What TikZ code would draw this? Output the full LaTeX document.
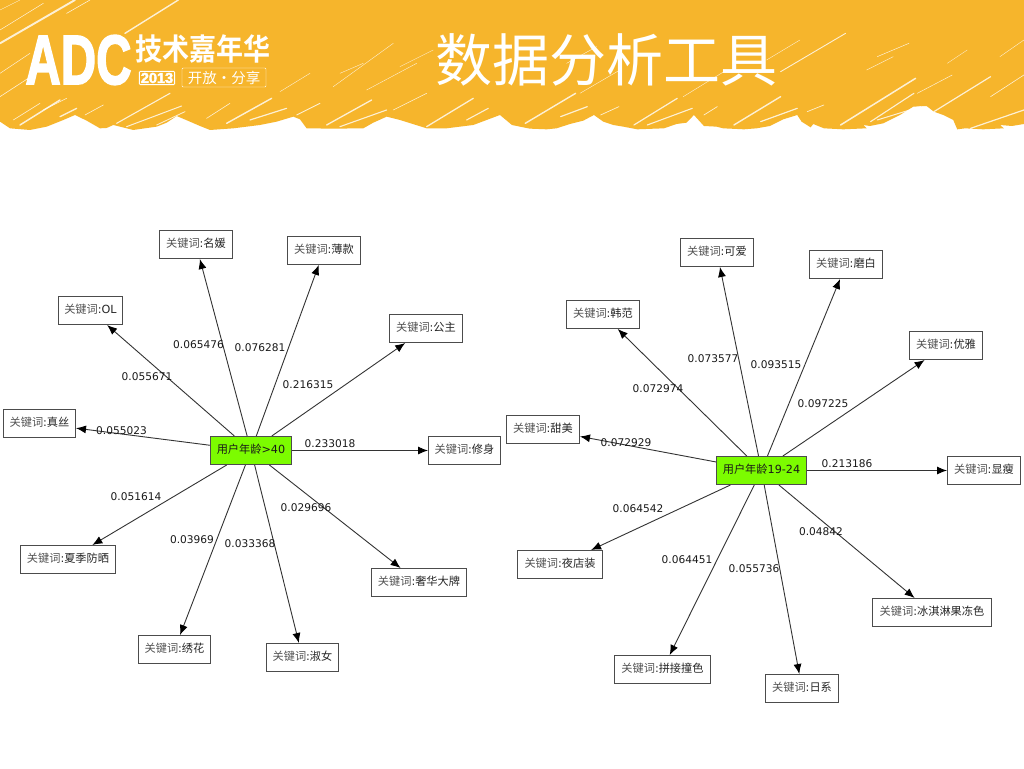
\documentclass[tikz,border=0pt]{standalone}
\usepackage{fontspec}
\setmainfont{DejaVu Sans}
\newfontfamily\cjk{Noto Sans CJK SC}
\newfontfamily\cjkb{Noto Sans CJK SC Bold}
\newfontfamily\logof[BoldFeatures={FakeBold=2.5}]{Liberation Sans}
\usetikzlibrary{arrows.meta}
\definecolor{bannerc}{HTML}{F6B52C}
\definecolor{hubc}{HTML}{7CFC00}
\definecolor{edgec}{HTML}{333333}
\newcommand\kwl[1]{{\cjk\color{black!68}关键词}:{\cjk #1}}
\tikzset{
 kw/.style={draw=black!70,line width=1pt,fill=white,minimum height=28pt,inner sep=0pt,outer sep=0.5pt,text height=9pt,text depth=3pt,font=\fontsize{11.2}{12}\selectfont,text=black!85},
 hub/.style={kw,fill=hubc,text=black!90},
 lnk/.style={draw=edgec,line width=0.9pt,-{Latex[length=10pt,width=8pt,color=black]}},
 wt/.style={font=\fontsize{10.6}{12}\selectfont,text=black!90,inner sep=0pt},
 scratch/.style={draw=white,line cap=round,opacity=0.8},
}
\begin{document}
\begin{tikzpicture}[x=1pt,y=-1pt]
\useasboundingbox (0,0) rectangle (1024,768);
\fill[white] (0,0) rectangle (1024,768);
% banner (coordinates at 3x)
\begin{scope}[x=0.3333pt,y=-0.3333pt]
\fill[bannerc] (0,0) -- (3072,0) -- (3072,372)
 -- (3036,378) -- (3000,375) -- (3012,385) -- (2950,388) -- (2896,385) -- (2872,388) -- (2860,360) -- (2830,345) -- (2802,335) -- (2780,318) -- (2740,320) -- (2700,345) -- (2650,370) -- (2610,378) -- (2590,375) -- (2600,385) -- (2530,388) -- (2472,385) -- (2440,372) -- (2432,382) -- (2405,365) -- (2392,345) -- (2350,358) -- (2310,378) -- (2270,385) -- (2232,388) -- (2170,385) -- (2150,380) -- (2112,378) -- (2082,345) -- (2060,368) -- (2030,372) -- (1992,385) -- (1912,388) -- (1870,380) -- (1840,375) -- (1810,365) -- (1782,345) -- (1750,362) -- (1710,372) -- (1670,385) -- (1640,388) -- (1590,386) -- (1560,380) -- (1536,375) -- (1500,345) -- (1460,360) -- (1420,375) -- (1340,385) -- (1280,385) -- (1200,360) -- (1160,350) -- (1120,368) -- (1090,385) -- (1000,386) -- (920,385) -- (900,358) -- (880,350) -- (830,365) -- (780,375) -- (700,385) -- (630,390) -- (600,378) -- (570,365) -- (530,348) -- (500,368) -- (470,380) -- (400,390) -- (340,375) -- (320,384) -- (300,385) -- (260,362) -- (225,345) -- (190,360) -- (140,380) -- (90,390) -- (30,385) -- (0,365) -- cycle;
\foreach \xa/\ya/\xb/\yb/\w in {
 0/130/225/0/1.9, 375/100/535/0/1.4, 0/30/60/0/0.4, 0/90/130/10/0.5, 0/290/100/225/0.6, 0/220/90/160/0.5, 200/40/270/0/0.6,
 60/375/180/300/1.5, 40/360/120/310/0.6, 180/350/230/325/1.3, 130/330/200/295/0.5, 255/345/310/315/0.6, 350/370/510/280/1.1, 380/380/545/318/1,
 470/375/555/335/0.8, 620/355/690/310/0.6, 680/370/815/295/1.4, 750/360/860/325/1.2, 890/345/960/310/0.8, 980/375/1115/300/1.3, 1020/380/1160/330/1.1,
 1180/330/1280/280/0.5, 1280/380/1420/295/1.3, 1400/360/1465/325/1.1,
 1000/260/1180/130/0.4, 840/275/930/220/0.4, 1020/220/1090/190/0.4, 1100/270/1250/190/0.4, 1200/200/1300/150/0.3,
 1576/370/1727/280/1.4, 1682/350/1762/320/1.2, 1802/345/1857/320/0.7, 1902/375/2032/295/1.2, 1942/375/2077/325/1.1, 2112/345/2152/320/0.7,
 2202/375/2342/290/1.4, 2282/365/2392/325/1.2, 2422/335/2472/315/0.7, 2522/375/2747/235/1.5, 2612/365/2742/280/1.1, 2632/360/2762/320/1,
 2802/335/2972/230/1.2, 2912/385/3072/330/1.2, 2342/215/2537/100/0.9, 2632/170/2727/130/0.5, 2842/190/2902/150/0.4, 2752/280/2857/225/0.5, 2972/290/3072/225/0.6,
 1700/190/1790/140/0.4, 1740/280/1860/210/0.4, 2050/290/2180/210/0.4, 2300/180/2400/120/0.4, 2600/210/2680/170/0.4, 3000/170/3072/120/0.4}
 {\draw[scratch,line width=\w pt] (\xa,\ya) -- (\xb,\yb);}
\end{scope}
% logo
\node[text=white,font=\logof\bfseries\fontsize{70}{70}\selectfont,inner sep=0pt,xscale=0.7] (logo) at (78.5,60) {ADC};
\node[text=white,font=\cjkb\fontsize{27}{27}\selectfont,inner sep=0pt,yscale=1.12] (carn) at (202.5,49) {技术嘉年华};
\node[text=white,font=\logof\bfseries\fontsize{14.5}{14.5}\selectfont,inner sep=1.5pt,draw=white,line width=0.9pt,rounded corners=1pt] (yr) at (157,78) {2013};
\node[text=white,font=\cjk\fontsize{14.5}{14.5}\selectfont,inner sep=1pt,draw=white,line width=0.4pt,rounded corners=1pt,minimum width=84pt,minimum height=19pt] (share) at (224,77.5) {开放·分享};
% title
\node[text=white,font=\cjk\fontsize{57}{57}\selectfont,inner sep=0pt] (title) at (606.5,60) {数据分析工具};
% left graph
\node[hub,minimum width=81pt] (h1) at (251,450.5) {{\cjk 用户年龄}>40};
\node[kw,minimum width=73pt] (a1) at (196,244.5) {\kwl{名媛}};
\node[kw,minimum width=73pt] (a2) at (324,250.5) {\kwl{薄款}};
\node[kw,minimum width=64pt] (a3) at (90.5,310.5) {{\cjk\color{black!68}关键词}:OL};
\node[kw,minimum width=73pt] (a4) at (426,328.5) {\kwl{公主}};
\node[kw,minimum width=72pt] (a5) at (39.5,423.5) {\kwl{真丝}};
\node[kw,minimum width=72pt] (a6) at (464.5,450.5) {\kwl{修身}};
\node[kw,minimum width=95pt] (a7) at (68,559.5) {\kwl{夏季防晒}};
\node[kw,minimum width=95pt] (a8) at (419,582.5) {\kwl{奢华大牌}};
\node[kw,minimum width=72pt] (a9) at (174.5,649.5) {\kwl{绣花}};
\node[kw,minimum width=72pt] (a10) at (302.5,657.5) {\kwl{淑女}};
\foreach \t in {a1,a2,a3,a4,a5,a6,a7,a8,a9,a10} \draw[lnk] (h1) -- (\t);
\node[wt] (w1) at (198.5,345) {0.065476};
\node[wt] (w2) at (260,348) {0.076281};
\node[wt] (w3) at (147,377) {0.055671};
\node[wt] (w4) at (308,385) {0.216315};
\node[wt] (w5) at (121.5,431) {0.055023};
\node[wt] (w6) at (330,444) {0.233018};
\node[wt] (w7) at (136,497) {0.051614};
\node[wt] (w8) at (306,508) {0.029696};
\node[wt] (w9) at (192,540) {0.03969};
\node[wt] (w10) at (250,544) {0.033368};
% right graph
\node[hub,minimum width=90pt] (h2) at (761.5,470.5) {{\cjk 用户年龄}19-24};
\node[kw,minimum width=73pt] (b1) at (717,252.5) {\kwl{可爱}};
\node[kw,minimum width=73pt] (b2) at (846,264.5) {\kwl{磨白}};
\node[kw,minimum width=73pt] (b3) at (603,314.5) {\kwl{韩范}};
\node[kw,minimum width=73pt] (b4) at (946,345.5) {\kwl{优雅}};
\node[kw,minimum width=73pt] (b5) at (543,429.5) {\kwl{甜美}};
\node[kw,minimum width=73pt] (b6) at (984,470.5) {\kwl{显瘦}};
\node[kw,minimum width=85pt] (b7) at (560,564.5) {\kwl{夜店装}};
\node[kw,minimum width=119pt] (b8) at (932,612.5) {\kwl{冰淇淋果冻色}};
\node[kw,minimum width=96pt] (b9) at (662.5,669.5) {\kwl{拼接撞色}};
\node[kw,minimum width=73pt] (b10) at (802,688.5) {\kwl{日系}};
\foreach \t in {b1,b2,b3,b4,b5,b6,b7,b8,b9,b10} \draw[lnk] (h2) -- (\t);
\node[wt] (x1) at (713,359) {0.073577};
\node[wt] (x2) at (776,365) {0.093515};
\node[wt] (x3) at (658,389) {0.072974};
\node[wt] (x4) at (823,404) {0.097225};
\node[wt] (x5) at (626,443) {0.072929};
\node[wt] (x6) at (847,464) {0.213186};
\node[wt] (x7) at (638,509) {0.064542};
\node[wt] (x8) at (821,532) {0.04842};
\node[wt] (x9) at (687,560) {0.064451};
\node[wt] (x10) at (754,569) {0.055736};
\end{tikzpicture}
\end{document}
